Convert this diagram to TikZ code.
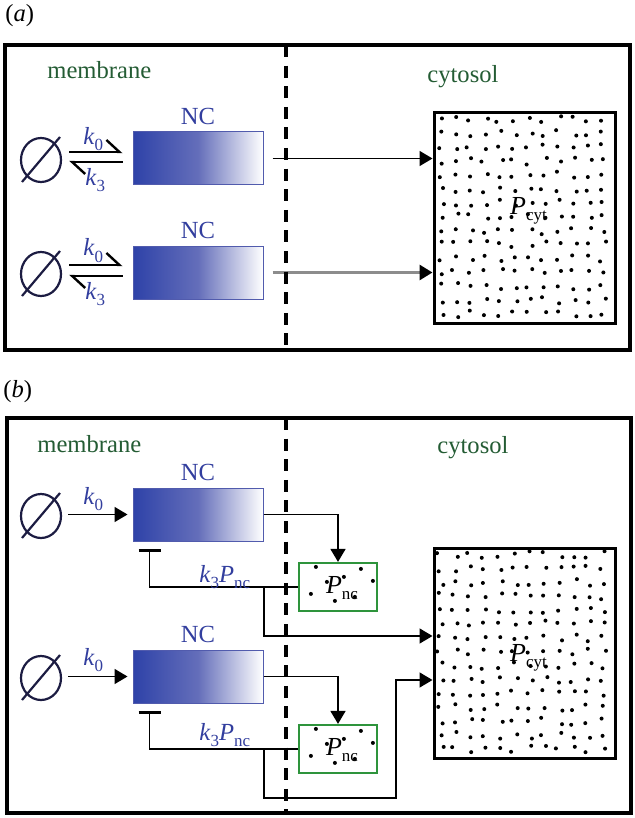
\documentclass[tikz,border=0pt]{standalone}
\usepackage{fontspec}
\setmainfont{Liberation Serif}
\usetikzlibrary{arrows.meta,calc,shapes.geometric}

\definecolor{regionGreen}{RGB}{36,92,52}
\definecolor{ncBlue}{RGB}{50,62,158}
\definecolor{ncDark}{RGB}{46,66,168}
\definecolor{ncMid}{RGB}{100,110,186}
\definecolor{nullNavy}{RGB}{28,28,66}
\definecolor{pncGreen}{RGB}{46,148,60}
\definecolor{arrowGray}{RGB}{140,140,140}

% lowered subscript, as the figure sets it
\newcommand{\lo}[1]{\raisebox{-3pt}{\fontsize{8.5}{9}\selectfont #1}}

% empty source: circle with a slash
\newcommand{\nullSrc}[2]{%
	\node[nullSrc] (#1) at (#2) {};
	\draw[nullSlash] ($(#1.center)+(-19,22)$) -- ($(#1.center)+(19,-23)$);
}

\tikzset{
	panel/.style={line width=1.8pt},
	membraneLine/.style={line width=2pt, dash pattern=on 6pt off 4.3pt},
	regionText/.style={text=regionGreen, anchor=base west, inner sep=0pt,
		font=\fontsize{12.3}{14}\selectfont},
	panelLabel/.style={anchor=base west, inner sep=0pt, font=\fontsize{12.3}{14}\selectfont},
	rateText/.style={text=ncBlue, anchor=base west, inner sep=0pt,
		font=\fontsize{12.3}{14}\selectfont},
	ncBox/.style={rectangle, draw=ncBlue!85, line width=0.5pt, inner sep=0pt,
		minimum width=65pt, minimum height=26.5pt,
		left color=ncDark, right color=white, middle color=ncMid},
	ncLabel/.style={text=ncBlue, inner sep=0pt, label distance=3pt,
		font=\fontsize{12.3}{14}\selectfont},
	nullSrc/.style={ellipse, draw=nullNavy, line width=1.1pt, inner sep=0pt,
		minimum width=20pt, minimum height=22pt},
	nullSlash/.style={draw=nullNavy, line width=1.1pt},
	pcytBox/.style={rectangle, draw, line width=1.5pt, inner sep=0pt,
		minimum width=90.5pt, minimum height=105pt},
	pncBox/.style={rectangle, draw=pncGreen, line width=1.1pt, inner sep=0pt,
		minimum width=39pt, minimum height=24pt},
	pLabel/.style={inner sep=0pt, font=\fontsize{13}{15}\selectfont},
	dot/.style={fill=black},
	eqArrow/.style={line width=1.2pt,
		-{Straight Barb[harpoon,length=6.5pt,width=12pt,line width=1.2pt]}},
	flowArrow/.style={line width=0.8pt, -{Triangle[length=6.5pt,width=7.5pt]}},
	inhibit/.style={line width=0.8pt, -{Bar[width=11pt,line width=1.6pt]}},
}

\begin{document}
\begin{tikzpicture}[x=0.5pt, y=-0.5pt]
	\useasboundingbox (0,0) rectangle (634,818);

	%% (a)
	\node[panelLabel] (labA) at (5,22) {(\textit{a})};
	\draw[panel] (5,45) rectangle (630,350);
	\node[regionText] (memA) at (47,79) {membrane};
	\node[regionText] (cytA) at (427,83) {cytosol};

	\nullSrc{esa1}{41,160}
	\nullSrc{esa2}{41,274}
	\node[ncBox, label={[ncLabel]above:NC}] (nca1) at (198,158.5) {};
	\node[ncBox, label={[ncLabel]above:NC}] (nca2) at (198,272.5) {};

	\draw[eqArrow] ($(esa1.east |- nca1.west)+(7,-6.5)$) -- ($(nca1.west)+(-10,-6.5)$);
	\draw[eqArrow] ($(nca1.west)+(-10,3.5)$) -- ($(esa1.east |- nca1.west)+(7,3.5)$);
	\draw[eqArrow] ($(esa2.east |- nca2.west)+(7,-7.5)$) -- ($(nca2.west)+(-10,-7.5)$);
	\draw[eqArrow] ($(nca2.west)+(-10,3.5)$) -- ($(esa2.east |- nca2.west)+(7,3.5)$);
	\node[rateText] (k0a1) at (83,145) {\textit{k}\lo{0}};
	\node[rateText] (k3a1) at (85,185) {\textit{k}\lo{3}};
	\node[rateText] (k0a2) at (83,256) {\textit{k}\lo{0}};
	\node[rateText] (k3a2) at (85,299) {\textit{k}\lo{3}};

	\node[pcytBox] (pcyta) at (524.5,218) {};
	\pgfmathsetseed{11}
	\foreach \i in {0,...,11}
		\foreach \j in {0,...,14}
			\fill[dot] ($(pcyta.north west)+({8+\i*14.8+3.5*rand},{8+\j*13.9+3.5*rand})$) circle (1pt);
	\node[pLabel] (lcyta) at ($(pcyta.center)+(4,-7)$) {\textit{P}\lo{cyt}};

	\draw[flowArrow] ($(nca1.east)+(9,0)$) -- (pcyta.west |- nca1.east);
	\draw[flowArrow, draw=arrowGray, line width=1.5pt, -{Triangle[length=6.5pt,width=7.5pt,color=black]}]
		($(nca2.east)+(9,0)$) -- (pcyta.west |- nca2.east);

	\draw[membraneLine] (286,45) -- (286,350);

	%% (b)
	\node[panelLabel] (labB) at (3,397) {(\textit{b})};
	\draw[panel, line width=2pt] (7,418) rectangle (631,813);
	\node[regionText] (memB) at (37,452) {membrane};
	\node[regionText] (cytB) at (437,453) {cytosol};

	\nullSrc{esb1}{41,516}
	\nullSrc{esb2}{41,678}
	\node[ncBox, label={[ncLabel]above:NC}] (ncb1) at (198,514.5) {};
	\node[ncBox, label={[ncLabel]above:NC}] (ncb2) at (198,676.5) {};
	\draw[flowArrow] ($(esb1.east |- ncb1.west)+(6,0)$) -- ($(ncb1.west)+(-5,0)$);
	\draw[flowArrow] ($(esb2.east |- ncb2.west)+(6,0)$) -- ($(ncb2.west)+(-5,0)$);
	\node[rateText] (k0b1) at (83,504) {\textit{k}\lo{0}};
	\node[rateText] (k0b2) at (83,665) {\textit{k}\lo{0}};

	\node[pncBox] (pncb1) at (338,587) {};
	\node[pncBox] (pncb2) at (338,749) {};
	\foreach \p in {pncb1,pncb2}
		\foreach \dx/\dy in {18/5,63/7,46/15,75/19,29/20,13/32,37/39,57/35}
			\fill[dot] ($(\p.north west)+(\dx,\dy)$) circle (1pt);
	\node[pLabel] (lncb1) at ($(pncb1.center)+(4,1)$) {\textit{P}\lo{nc}};
	\node[pLabel] (lncb2) at ($(pncb2.center)+(4,1)$) {\textit{P}\lo{nc}};

	\node[pcytBox] (pcytb) at (524.5,653) {};
	\pgfmathsetseed{23}
	\foreach \i in {0,...,11}
		\foreach \j in {0,...,14}
			\fill[dot] ($(pcytb.north west)+({8+\i*14.8+3.5*rand},{8+\j*13.9+3.5*rand})$) circle (1pt);
	\node[pLabel] (lcytb) at ($(pcytb.center)+(4,5)$) {\textit{P}\lo{cyt}};

	\draw[flowArrow] (ncb1.east) -| (pncb1.north);
	\draw[flowArrow] (ncb2.east) -| (pncb2.north);
	\draw[inhibit] (pncb1.west) -| ($(ncb1.south west)+(17,7)$);
	\draw[inhibit] (pncb2.west) -| ($(ncb2.south west)+(17,7)$);
	\node[rateText] (k3b1) at (199,582) {\textit{k}\lo{3}\textit{P}\lo{nc}};
	\node[rateText] (k3b2) at (199,740) {\textit{k}\lo{3}\textit{P}\lo{nc}};

	\coordinate (jb1) at ($(pncb1.west)+(-34,0)$);
	\coordinate (jb2) at ($(pncb2.west)+(-34,0)$);
	\draw[flowArrow] (jb1) |- ($(pcytb.west)+(0,-17)$);
	\draw[flowArrow] (jb2) |- ($(jb2)+(132,49)$) |- ($(pcytb.west)+(0,27)$);

	\draw[membraneLine] (286,418) -- (286,813);
\end{tikzpicture}
\end{document}
